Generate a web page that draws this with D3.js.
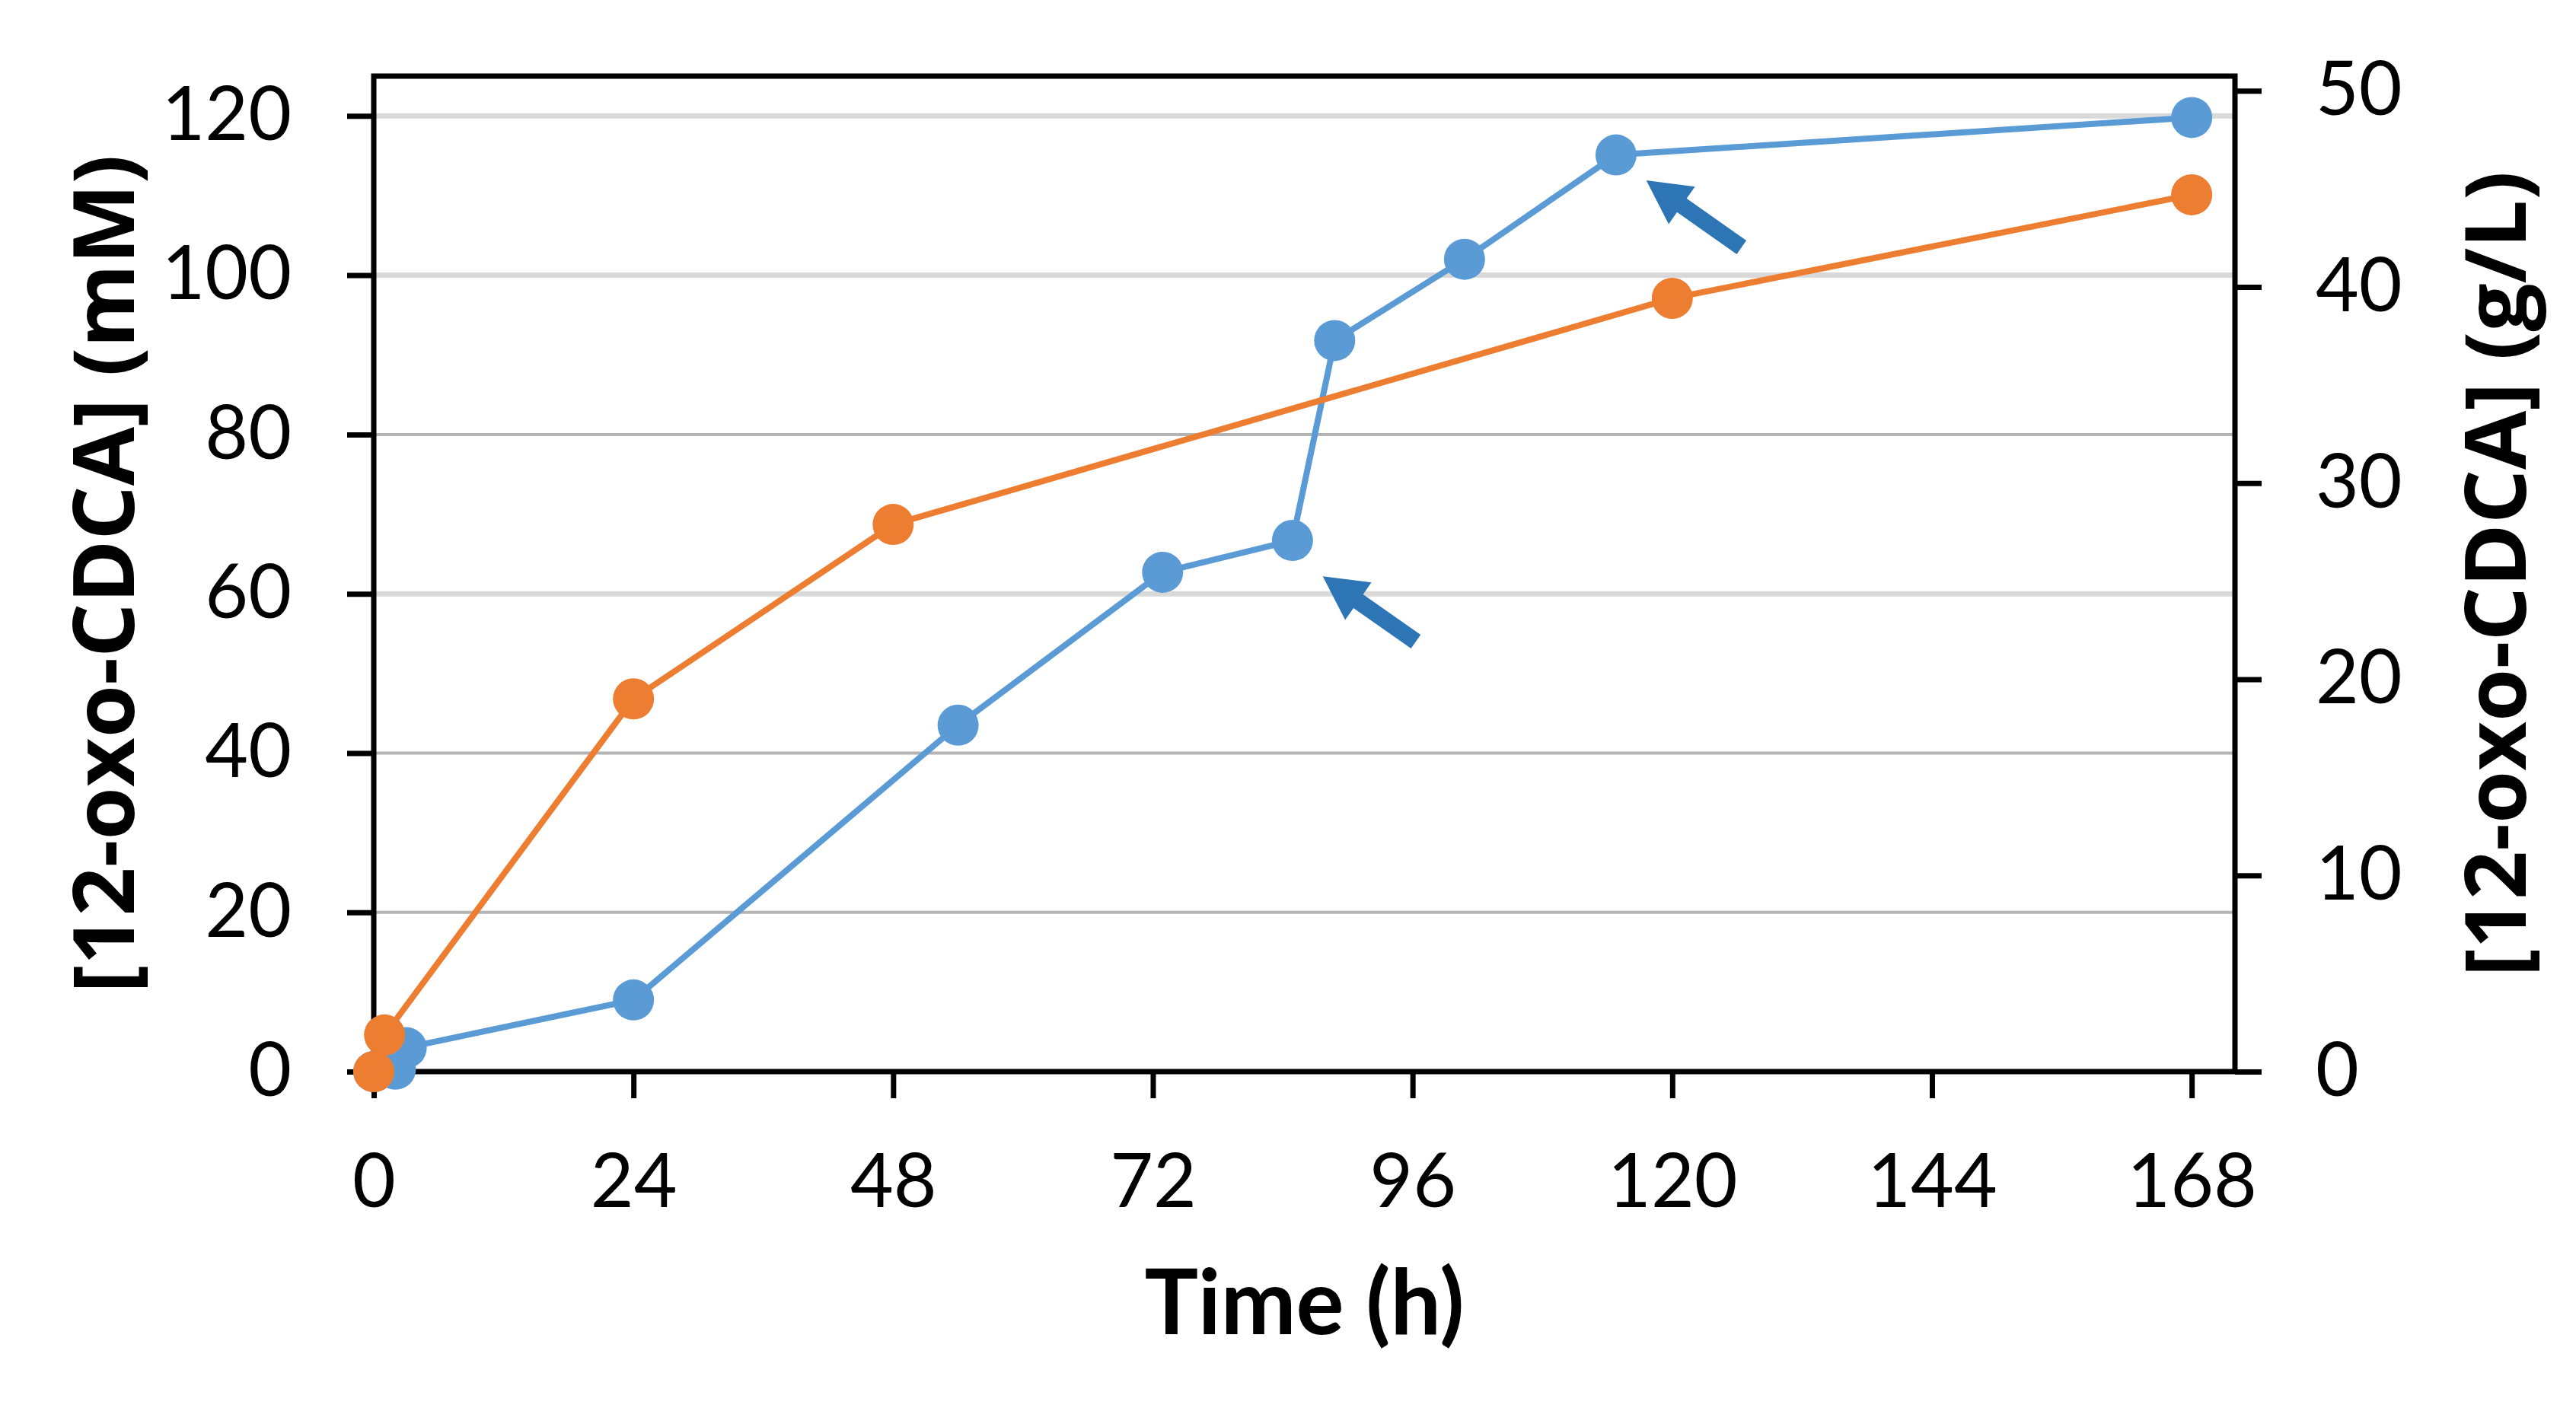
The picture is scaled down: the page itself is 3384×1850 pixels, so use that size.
<!DOCTYPE html>
<html>
<head>
<meta charset="utf-8">
<script src="https://cdn.jsdelivr.net/npm/d3@7"></script>
<style>
html,body{margin:0;padding:0;background:#fff;}
svg{display:block;}
</style>
</head>
<body>
<svg id="chart" width="3384" height="1850"></svg>
<script>
// ---- data ----
const timeBlue   = [0, 2, 3, 24, 54, 72.9, 84.9, 88.8, 100.8, 114.8, 168];
const concBlue   = [0, 0.3, 3, 9, 43.5, 62.7, 66.7, 91.8, 102, 115.1, 119.8];
const timeOrange = [0, 1, 24, 48, 120, 168];
const concOrange = [0, 4.6, 46.8, 68.7, 97.1, 110.1];
const xTicks = [0, 24, 48, 72, 96, 120, 144, 168];
const yTicks = [0, 20, 40, 60, 80, 100, 120];
const yRightTicks = [0, 10, 20, 30, 40, 50];
const arrowTips  = [[87.7, 62.2], [117.6, 111.9]];
const arrowTails = [[96.3, 54.0], [126.4, 103.5]];
const xTitle = "Time (h)";
const yTitle = "[12-oxo-CDCA] (mM)";
const yRightTitle = "[12-oxo-CDCA] (g/L)";
const molarMass = 406; // g/mol, links mM and g/L axes

// ---- layout ----
const L = 491, R = 2936, T = 100, B = 1408;
const svg = d3.select("#chart");
const x = d3.scaleLinear().domain([0, 172]).range([L, R]);
const y = d3.scaleLinear().domain([0, 125]).range([B, T]);
const y2 = d3.scaleLinear().domain([0, 125 * molarMass / 1000]).range([B, T]);

const tickFont = "Lato, 'Open Sans', sans-serif";

// gridlines
const gridColor = d => ([20, 40, 80].includes(d) ? "#b4b4b4" : "#d9d9d9");
svg.append("g").selectAll("line").data(yTicks.filter(d => d > 0)).join("line")
  .attr("x1", L).attr("x2", R)
  .attr("y1", d => y(d)).attr("y2", d => y(d))
  .attr("stroke", gridColor)
  .attr("stroke-width", d => ([20, 40, 80].includes(d) ? 4 : 7));

// axes
function styleAxis(g) {
  g.select(".domain").remove();
  g.selectAll(".tick line").attr("stroke", "#000").attr("stroke-width", 7);
  g.selectAll(".tick text").attr("fill", "#000")
    .style("font-family", tickFont).style("font-size", "98px");
}
svg.append("g").attr("transform", `translate(${L},0)`)
  .call(d3.axisLeft(y).tickValues(yTicks).tickSize(35).tickPadding(73).tickFormat(d3.format("d")))
  .call(styleAxis);
svg.append("g").attr("transform", `translate(0,${B})`)
  .call(d3.axisBottom(x).tickValues(xTicks).tickSize(35).tickPadding(73).tickFormat(d3.format("d")))
  .call(styleAxis);
svg.append("g").attr("transform", `translate(${R},0)`)
  .call(d3.axisRight(y2).tickValues(yRightTicks).tickSize(35).tickPadding(71).tickFormat(d3.format("d")))
  .call(styleAxis);

// frame
svg.append("rect").attr("x", L).attr("y", T).attr("width", R - L).attr("height", B - T)
  .attr("fill", "none").attr("stroke", "#000").attr("stroke-width", 7);

// series
const series = [
  {t: timeBlue, c: concBlue, color: "#5b9bd5"},
  {t: timeOrange, c: concOrange, color: "#ed7d31"}
];
const line = d3.line().x(d => x(d[0])).y(d => y(d[1]));
series.forEach(s => {
  const pts = s.t.map((t, i) => [t, s.c[i]]);
  svg.append("path").datum(pts).attr("d", line)
    .attr("fill", "none").attr("stroke", s.color).attr("stroke-width", 8)
    .attr("stroke-linejoin", "round");
  svg.append("g").selectAll("circle").data(pts).join("circle")
    .attr("cx", d => x(d[0])).attr("cy", d => y(d[1])).attr("r", 27)
    .attr("fill", s.color);
});

// arrows
const headLen = 57, headHalf = 30, shaftHalf = 11;
arrowTips.forEach((tip, i) => {
  const tail = arrowTails[i];
  const tx = x(tip[0]), ty = y(tip[1]);
  const ex = x(tail[0]), ey = y(tail[1]);
  const len = Math.hypot(ex - tx, ey - ty);
  const ux = (ex - tx) / len, uy = (ey - ty) / len;
  const px = -uy, py = ux;
  const bx = tx + ux * headLen, by = ty + uy * headLen;
  const poly = [
    [tx, ty],
    [bx + px * headHalf, by + py * headHalf],
    [bx + px * shaftHalf, by + py * shaftHalf],
    [ex + px * shaftHalf, ey + py * shaftHalf],
    [ex - px * shaftHalf, ey - py * shaftHalf],
    [bx - px * shaftHalf, by - py * shaftHalf],
    [bx - px * headHalf, by - py * headHalf]
  ];
  svg.append("polygon").attr("points", poly.map(p => p.join(",")).join(" "))
    .attr("fill", "#2e75b6");
});

// titles
svg.append("text").attr("x", (L + R) / 2).attr("y", 1753)
  .attr("text-anchor", "middle")
  .style("font-family", "Lato, 'Open Sans', sans-serif").style("font-weight", "bold")
  .style("font-size", "118px").text(xTitle);
svg.append("text").attr("transform", `translate(176,${(T + B) / 2}) rotate(-90)`)
  .attr("text-anchor", "middle")
  .style("font-family", "'Open Sans', Lato, sans-serif").style("font-weight", "bold")
  .style("font-size", "112px").text(yTitle);
svg.append("text").attr("transform", `translate(3318,${(T + B) / 2}) rotate(-90)`)
  .attr("text-anchor", "middle")
  .style("font-family", "'Open Sans', Lato, sans-serif").style("font-weight", "bold")
  .style("font-size", "112px").text(yRightTitle);
</script>
</body>
</html>
